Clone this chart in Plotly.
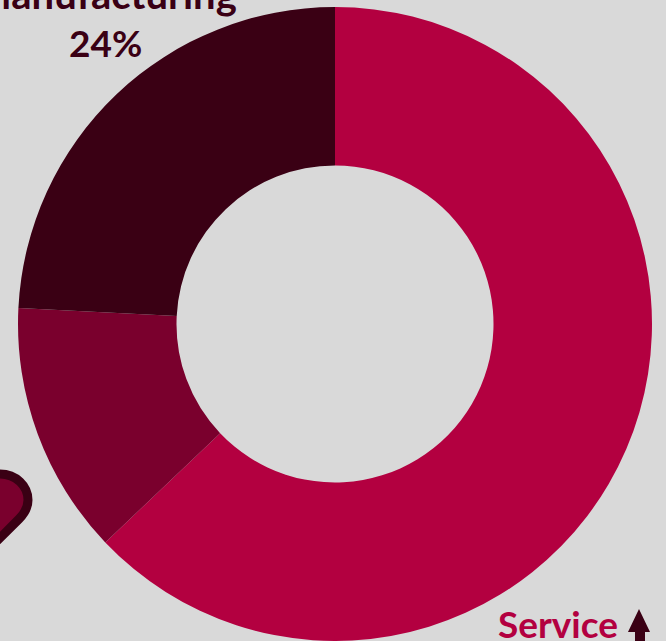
import plotly.graph_objects as go

categories = ["Service", "Industry", "Manufacturing"]
values = [62.9, 12.9, 24.2]
colors = ["#B30040", "#7A002D", "#3A0014"]

W, H = 666, 641
fig = go.Figure(go.Pie(
    labels=categories, values=values, hole=0.5, sort=False,
    direction="clockwise", rotation=0, textinfo="none",
    marker=dict(colors=colors, line=dict(width=0)),
    domain=dict(x=[18/W, 652/W], y=[0, 634/H]),
    showlegend=False,
))

def px(x, y):
    return f"{x/W:.5f},{1-y/H:.5f}"

blob = (f"M {px(-12,474)} L {px(0,474)} C {px(16,474)} {px(28,486)} {px(28,500)} "
        f"C {px(28,508)} {px(24,514)} {px(19,519)} L {px(-6,544)} Z")
arrow = (f"M {px(639,609)} L {px(650,632)} L {px(645,632)} L {px(645,641)} "
         f"L {px(635,641)} L {px(635,632)} L {px(628,632)} Z")

fig.update_layout(
    width=W, height=H, autosize=False,
    margin=dict(l=0, r=0, t=0, b=0),
    paper_bgcolor="#D9D9D9", plot_bgcolor="#D9D9D9",
    shapes=[
        dict(type="path", xref="paper", yref="paper", path=blob,
             fillcolor="#7A002D", line=dict(color="#3A0014", width=9)),
        dict(type="path", xref="paper", yref="paper", path=arrow,
             fillcolor="#3A0014", line=dict(width=0)),
    ],
    annotations=[
        dict(text="<b>Manufacturing</b>", xref="paper", yref="paper", x=105/W, y=1-(-6)/H,
             xanchor="center", yanchor="middle", showarrow=False,
             font=dict(family="Lato", size=40, color="#3A0014")),
        dict(text="<b>24%</b>", xref="paper", yref="paper", x=105.5/W, y=1-43/H,
             xanchor="center", yanchor="middle", showarrow=False,
             font=dict(family="Lato", size=37, color="#3A0014")),
        dict(text="<b>Service</b>", xref="paper", yref="paper", x=557.5/W, y=1-623/H,
             xanchor="center", yanchor="middle", showarrow=False,
             font=dict(family="Lato", size=37, color="#B30040")),
    ],
)
fig.write_html("out.html", config=dict(displayModeBar=False),
               post_script="document.body.style.margin='0';document.body.style.overflow='hidden';document.body.style.background='#D9D9D9';")
